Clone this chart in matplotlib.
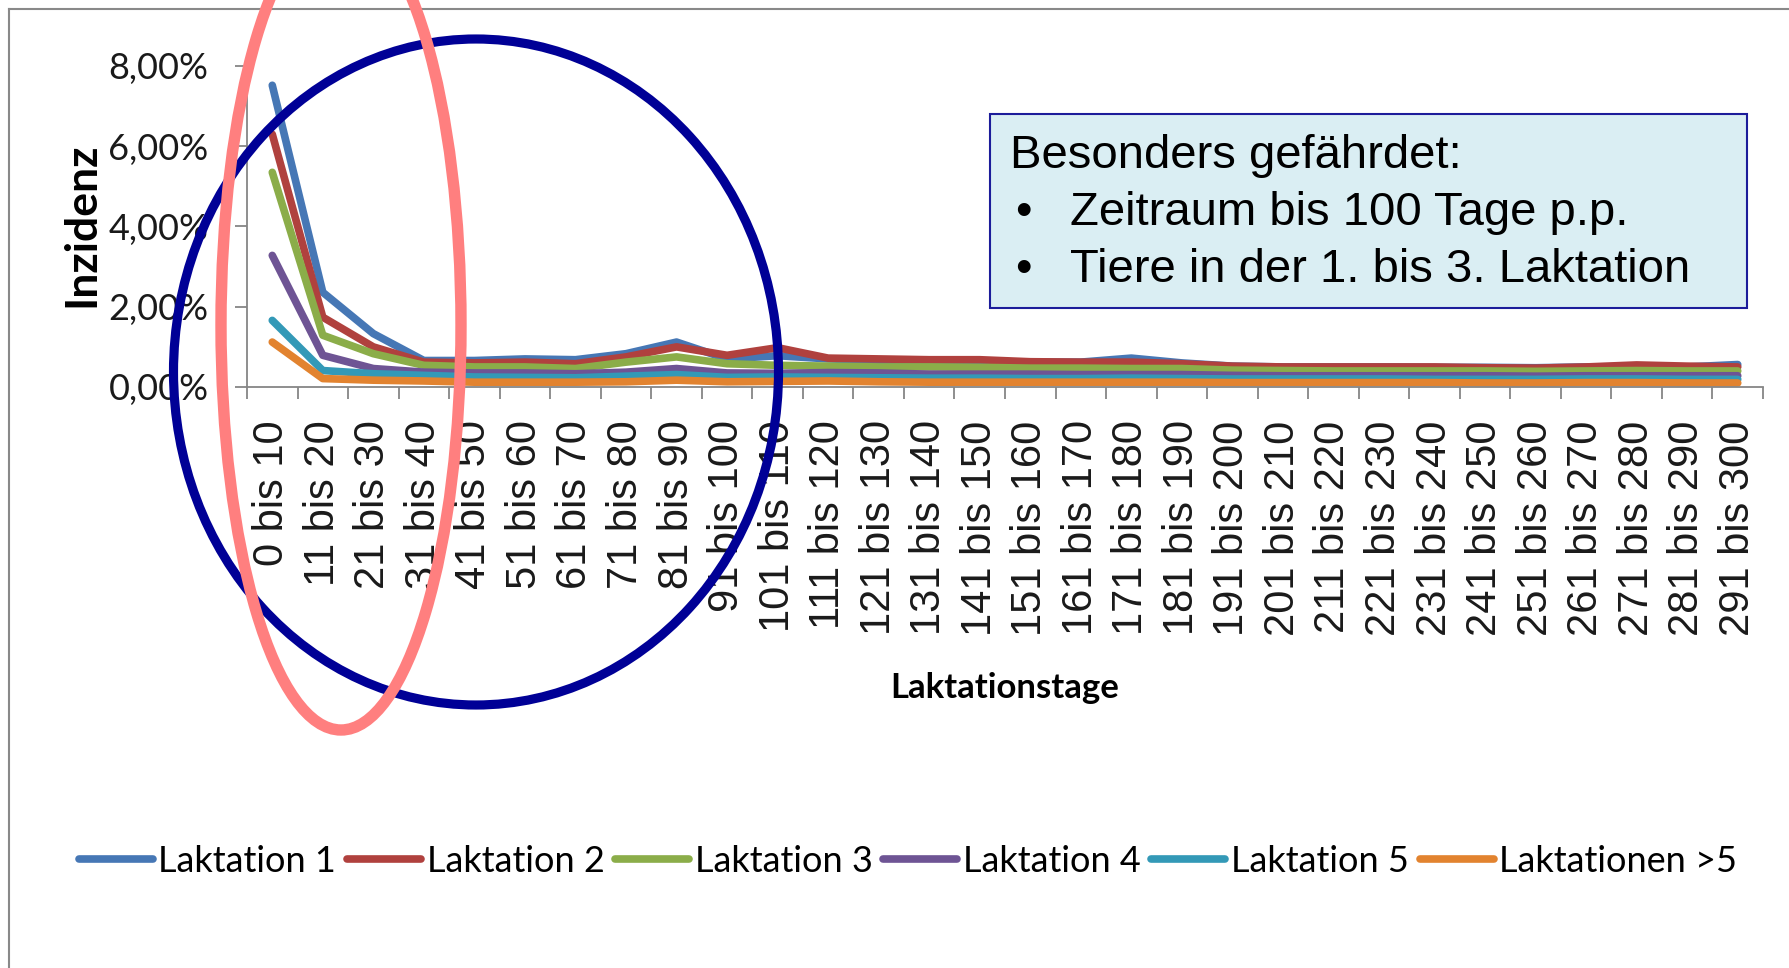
import matplotlib

matplotlib.use("Agg")
import matplotlib.pyplot as plt
from matplotlib.patches import Ellipse, Rectangle
from matplotlib.lines import Line2D

plt.rcParams["font.family"] = ["Liberation Sans", "DejaVu Sans"]
CAL = ["Lato", "Liberation Sans", "DejaVu Sans"]

# --- data (incidence in %) ---
categories = ["0 bis 10"] + [f"{s} bis {s + 9}" for s in range(11, 300, 10)]
lak1 = [7.52, 2.36, 1.33, 0.66, 0.66, 0.70, 0.68, 0.83, 1.12, 0.70,
        0.78, 0.70, 0.66, 0.65, 0.64, 0.62, 0.62, 0.72, 0.60, 0.52,
        0.50, 0.50, 0.50, 0.49, 0.49, 0.48, 0.50, 0.51, 0.50, 0.56]
lak2 = [6.30, 1.74, 1.00, 0.62, 0.60, 0.62, 0.58, 0.75, 1.00, 0.79,
        0.98, 0.72, 0.70, 0.68, 0.68, 0.63, 0.62, 0.62, 0.58, 0.52,
        0.50, 0.50, 0.50, 0.50, 0.48, 0.47, 0.50, 0.55, 0.52, 0.50]
lak3 = [5.35, 1.29, 0.83, 0.54, 0.50, 0.50, 0.46, 0.62, 0.75, 0.58,
        0.54, 0.52, 0.50, 0.50, 0.49, 0.47, 0.47, 0.46, 0.46, 0.42,
        0.41, 0.40, 0.40, 0.40, 0.40, 0.39, 0.40, 0.41, 0.40, 0.40]
lak4 = [3.28, 0.79, 0.46, 0.37, 0.35, 0.35, 0.33, 0.37, 0.46, 0.35,
        0.34, 0.36, 0.35, 0.32, 0.32, 0.32, 0.31, 0.31, 0.31, 0.29,
        0.28, 0.28, 0.28, 0.28, 0.28, 0.27, 0.28, 0.28, 0.28, 0.28]
lak5 = [1.66, 0.41, 0.33, 0.29, 0.25, 0.24, 0.23, 0.27, 0.31, 0.24,
        0.25, 0.24, 0.23, 0.22, 0.22, 0.21, 0.21, 0.22, 0.21, 0.20,
        0.20, 0.20, 0.20, 0.19, 0.19, 0.19, 0.20, 0.20, 0.19, 0.19]
lak6 = [1.12, 0.21, 0.17, 0.15, 0.12, 0.12, 0.12, 0.13, 0.17, 0.13,
        0.14, 0.15, 0.13, 0.12, 0.12, 0.12, 0.12, 0.12, 0.12, 0.11,
        0.11, 0.11, 0.11, 0.11, 0.10, 0.10, 0.11, 0.11, 0.10, 0.10]
series = [lak1, lak2, lak3, lak4, lak5, lak6]
labels = ["Laktation 1", "Laktation 2", "Laktation 3", "Laktation 4",
          "Laktation 5", "Laktationen >5"]
colors = ["#4677B5", "#B0413E", "#8BAD49", "#6E5494", "#3399B7", "#E2832F"]
y_ticks = [0, 2, 4, 6, 8]
y_ticklabels = ["0,00%", "2,00%", "4,00%", "6,00%", "8,00%"]
box_lines = ["Zeitraum bis 100 Tage p.p.", "Tiere in der 1. bis 3. Laktation"]

W, H = 1789, 968
fig = plt.figure(figsize=(W / 100, H / 100), dpi=100)
ax = fig.add_axes([247 / W, 1 - 387 / H, (1763 - 247) / W, (387 - 66) / H])

x = list(range(len(categories)))
for vals, lab, col in zip(series, labels, colors):
    ax.plot(x, vals, color=col, lw=5.5, label=lab,
            solid_joinstyle="round", solid_capstyle="round")

ax.set_xlim(-0.5, len(categories) - 0.5)
ax.set_ylim(0, 8)
for s in ["top", "right"]:
    ax.spines[s].set_visible(False)
for s in ["left", "bottom"]:
    ax.spines[s].set_color("#868686")
    ax.spines[s].set_linewidth(1.3)

ax.set_yticks(y_ticks)
ax.set_yticklabels(y_ticklabels, family=CAL, fontsize=26)
ax.tick_params(axis="y", length=8.6, width=1.3, color="#868686", pad=19,
               labelcolor="#1a1a1a")

ax.set_xticks(x)
ax.set_xticklabels(categories, rotation=90, fontsize=30)
ax.set_xticks([i - 0.5 for i in range(len(categories) + 1)], minor=True)
ax.tick_params(axis="x", which="major", length=0, pad=24, labelcolor="#1a1a1a")
ax.tick_params(axis="x", which="minor", length=8.6, width=1.3, color="#868686")

ax.set_xlabel("Laktationstage", family=CAL, fontsize=25, fontweight="bold")
ax.xaxis.label.set_va("center")
ax.xaxis.set_label_coords(0.5, -0.938)
ax.set_ylabel("Inzidenz", family=CAL, fontsize=32, fontweight="bold")
ax.yaxis.label.set_va("center")
ax.yaxis.set_label_coords(-0.109, 0.505)

fig.legend(loc="center", bbox_to_anchor=(908 / W, 1 - 861 / H), ncol=6,
           frameon=False, prop={"family": CAL, "size": 26},
           handlelength=2.05, handletextpad=0.15, columnspacing=0.3)

# outer chart frame
fig.add_artist(Line2D([9 / W, 9 / W], [0, 1 - 9 / H], transform=fig.transFigure,
                      color="#898989", lw=1.5))
fig.add_artist(Line2D([9 / W, 1], [1 - 9 / H, 1 - 9 / H], transform=fig.transFigure,
                      color="#898989", lw=1.5))

# annotation box
fig.add_artist(Rectangle((990 / W, 1 - 308 / H), (1747 - 990) / W, (308 - 114) / H,
                         transform=fig.transFigure, facecolor="#DAEEF3",
                         edgecolor="#1C1C9A", lw=1.5))
fig.text(1010 / W, 1 - 156 / H, "Besonders gefährdet:", fontsize=34, va="center")
for i, line in enumerate(box_lines):
    yy = 1 - (213 + 57 * i) / H
    fig.text(1015 / W, yy, "•", fontsize=34, va="center")
    fig.text(1070 / W, yy, line, fontsize=34, va="center")

# highlight ellipses
fig.add_artist(Ellipse((476 / W, 1 - 372 / H), 605 / W, 666 / H,
                       transform=fig.transFigure, fill=False,
                       edgecolor="#000096", lw=6.6, zorder=10))
fig.add_artist(Ellipse((341 / W, 1 - 325 / H), 240 / W, 810 / H,
                       transform=fig.transFigure, fill=False,
                       edgecolor="#FF7F7F", lw=8.2, zorder=11))

fig.savefig("out.png", dpi=100)
plt.close(fig)
